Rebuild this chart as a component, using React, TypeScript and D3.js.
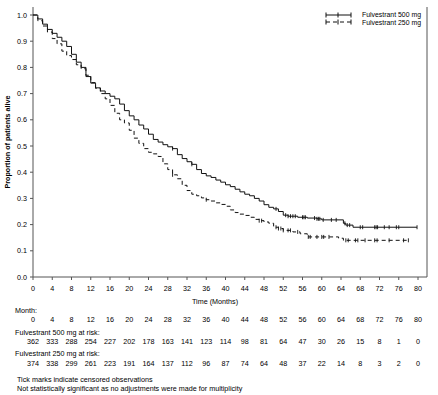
import React from "react";
import * as d3 from "d3";

const months500 = [0,1,2,3,4,5,6,7,8,9,10,11,12,13,14,15,16,17,18,19,20,21,22,23,24,25,26,27,28,29,30,31,32,33,34,35,36,37,38,39,40,41,42,43,44,45,46,47,48,49,50,51,52,53,55,57,59,60,64.5,65,66.5,79.8];
const surv500 = [1.0,0.985,0.965,0.945,0.93,0.915,0.9,0.88,0.85,0.82,0.8,0.765,0.74,0.722,0.71,0.7,0.69,0.68,0.66,0.635,0.615,0.6,0.58,0.565,0.545,0.525,0.515,0.505,0.497,0.49,0.467,0.452,0.44,0.43,0.41,0.395,0.386,0.38,0.37,0.362,0.352,0.345,0.335,0.325,0.316,0.31,0.3,0.29,0.276,0.266,0.26,0.25,0.236,0.232,0.228,0.225,0.222,0.218,0.205,0.198,0.19,0.19];
const censor500 = [29,33,50.5,52.5,53,53.5,54,54.5,56,56.3,56.6,58.5,59,59.3,59.6,60.3,62,63,64.8,65.3,65.8,68,68.5,71,71.3,71.6,73,74,75.5,76,79.8];

const months250 = [0,1,2,3,4,5,6,7,8,9,10,11,12,13,14,15,16,17,18,19,20,21,22,23,24,25,26,27,28,29,30,31,32,33,34,35,36,37,38,39,40,41,42,43,44,45,46,47,48,49,50,51,52,54,55.5,57,63.5,64.5,78];
const surv250 = [1.0,0.978,0.958,0.935,0.91,0.89,0.862,0.845,0.83,0.81,0.795,0.77,0.742,0.72,0.7,0.68,0.655,0.625,0.6,0.588,0.56,0.53,0.51,0.49,0.476,0.47,0.46,0.432,0.41,0.39,0.375,0.35,0.33,0.316,0.31,0.302,0.295,0.29,0.283,0.277,0.27,0.256,0.246,0.24,0.235,0.228,0.22,0.215,0.21,0.205,0.19,0.185,0.178,0.172,0.165,0.153,0.148,0.14,0.14];
const censor250 = [29,36,47,47.5,50.5,51,51.5,52,53,53.5,55,57.2,57.6,59,60,60.4,61.5,65,65.5,67,67.5,69,71,71.5,74,77,78];

const riskMonths = [0,4,8,12,16,20,24,28,32,36,40,44,48,52,56,60,64,68,72,76,80];
const risk500 = [362,333,288,254,227,202,178,163,141,123,114,98,81,64,47,30,26,15,8,1,0];
const risk250 = [374,338,299,261,223,191,164,137,112,96,87,74,64,48,37,22,14,8,3,2,0];
const yTicks = [0,0.1,0.2,0.3,0.4,0.5,0.6,0.7,0.8,0.9,1.0];
const seriesNames = ["Fulvestrant 500 mg", "Fulvestrant 250 mg"];

const W = 438, H = 395;
const left = 33, right = 427, top = 7, bottom = 277;

export default function App() {
  const x = d3.scaleLinear().domain([0, 80]).range([33, 418]);
  const y = d3.scaleLinear().domain([0, 1]).range([277, 15]);
  const line = d3.line<[number, number]>().x(d => x(d[0])).y(d => y(d[1])).curve(d3.curveStepAfter);
  const d500 = line(months500.map((m, i) => [m, surv500[i]] as [number, number])) || "";
  const d250 = line(months250.map((m, i) => [m, surv250[i]] as [number, number])) || "";
  const stepVal = (ms: number[], ss: number[], m: number) => {
    let v = ss[0];
    for (let i = 0; i < ms.length; i++) if (ms[i] <= m) v = ss[i];
    return v;
  };
  const font = "'Liberation Sans', Arial, sans-serif";
  const tc = "#000";
  const fs = 7.2;
  return (
    <svg width={W} height={H} style={{ position: "absolute", left: 0, top: 0, background: "#fff" }} fontFamily={font}>
      <line x1={left} x2={left} y1={top} y2={bottom} stroke="#555" strokeWidth={1} />
      <line x1={left} x2={right} y1={bottom} y2={bottom} stroke="#555" strokeWidth={1} />
      <line x1={right} x2={right} y1={top} y2={bottom} stroke="#555" strokeWidth={1} />
      {yTicks.map(t => (
        <g key={"y" + t}>
          <line x1={left - 3} x2={left} y1={y(t)} y2={y(t)} stroke="#555" />
          <text x={27} y={y(t) + 2.5} fontSize={fs} textAnchor="end" fill={tc}>{t.toFixed(1)}</text>
        </g>
      ))}
      {riskMonths.map(m => (
        <g key={"x" + m}>
          <line x1={x(m)} x2={x(m)} y1={bottom} y2={bottom + 3} stroke="#555" />
          <text x={x(m)} y={291} fontSize={fs} textAnchor="middle" fill={tc}>{m}</text>
        </g>
      ))}
      <text x={215} y={304} fontSize={fs} textAnchor="middle" fill={tc}>Time (Months)</text>
      <text transform={`translate(10,142) rotate(-90)`} fontSize={fs} fontWeight="bold" textAnchor="middle" fill={tc}>Proportion of patients alive</text>

      <path d={d500} fill="none" stroke="#111" strokeWidth={1} />
      <path d={d250} fill="none" stroke="#111" strokeWidth={1} strokeDasharray="4,3" />
      {censor500.map((m, i) => (
        <line key={"c5" + i} x1={x(m)} x2={x(m)} y1={y(stepVal(months500, surv500, m)) - 2} y2={y(stepVal(months500, surv500, m)) + 2} stroke="#111" strokeWidth={0.9} />
      ))}
      {censor250.map((m, i) => (
        <line key={"c2" + i} x1={x(m)} x2={x(m)} y1={y(stepVal(months250, surv250, m)) - 2} y2={y(stepVal(months250, surv250, m)) + 2} stroke="#111" strokeWidth={0.9} />
      ))}

      <line x1={326} x2={351} y1={15} y2={15} stroke="#111" />
      {[326, 338, 351].map(px => <line key={"l1" + px} x1={px} x2={px} y1={12.5} y2={17.5} stroke="#111" />)}
      <line x1={326} x2={351} y1={22} y2={22} stroke="#111" strokeDasharray="4,3" />
      {[326, 338, 351].map(px => <line key={"l2" + px} x1={px} x2={px} y1={19.5} y2={24.5} stroke="#111" />)}
      <text x={362} y={17} fontSize={6.9} fill={tc}>{seriesNames[0]}</text>
      <text x={362} y={24.8} fontSize={6.9} fill={tc}>{seriesNames[1]}</text>

      <text x={15} y={313} fontSize={fs} fill={tc}>Month:</text>
      {riskMonths.map(m => <text key={"rm" + m} x={x(m)} y={322} fontSize={fs} textAnchor="middle" fill={tc}>{m}</text>)}
      <text x={15} y={335} fontSize={fs} fill={tc}>{seriesNames[0]} at risk:</text>
      {risk500.map((v, i) => <text key={"r5" + i} x={x(riskMonths[i])} y={344} fontSize={fs} textAnchor="middle" fill={tc}>{v}</text>)}
      <text x={15} y={356} fontSize={fs} fill={tc}>{seriesNames[1]} at risk:</text>
      {risk250.map((v, i) => <text key={"r2" + i} x={x(riskMonths[i])} y={366} fontSize={fs} textAnchor="middle" fill={tc}>{v}</text>)}
      <text x={17} y={382} fontSize={fs} fill={tc}>Tick marks indicate censored observations</text>
      <text x={17} y={391} fontSize={fs} fill={tc}>Not statistically significant as no adjustments were made for multiplicity</text>
    </svg>
  );
}
